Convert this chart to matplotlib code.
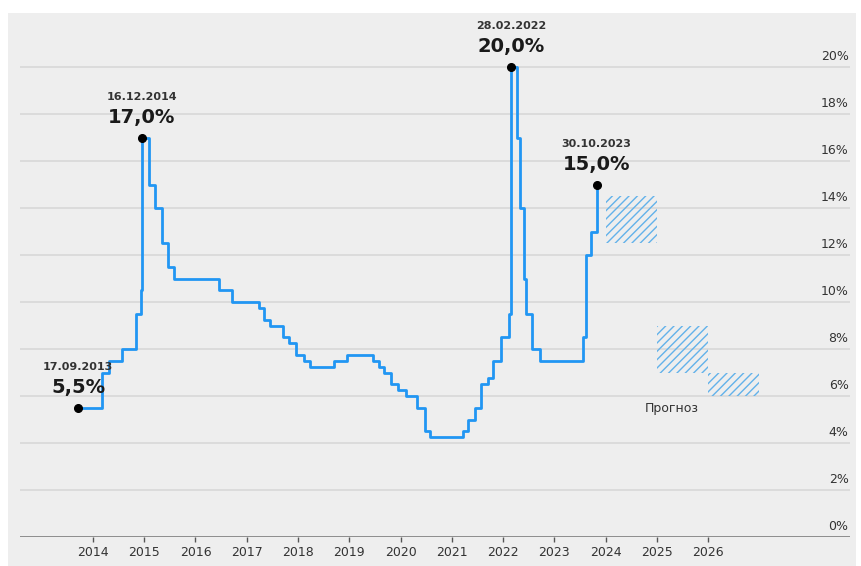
import matplotlib
matplotlib.use("Agg")
import matplotlib.pyplot as plt
from matplotlib.patches import Rectangle
import pandas as pd

# ---- data ----
rate_dates = ["17.09.2013", "03.03.2014", "28.04.2014", "28.07.2014", "05.11.2014",
              "12.12.2014", "16.12.2014", "02.02.2015", "16.03.2015", "05.05.2015",
              "16.06.2015", "03.08.2015", "14.06.2016", "19.09.2016", "27.03.2017",
              "02.05.2017", "19.06.2017", "18.09.2017", "30.10.2017", "18.12.2017",
              "12.02.2018", "26.03.2018", "17.09.2018", "17.12.2018", "17.06.2019",
              "29.07.2019", "09.09.2019", "28.10.2019", "16.12.2019", "10.02.2020",
              "27.04.2020", "22.06.2020", "27.07.2020", "22.03.2021", "26.04.2021",
              "15.06.2021", "26.07.2021", "13.09.2021", "25.10.2021", "20.12.2021",
              "14.02.2022", "28.02.2022", "11.04.2022", "04.05.2022", "27.05.2022",
              "14.06.2022", "25.07.2022", "19.09.2022", "24.07.2023", "15.08.2023",
              "18.09.2023", "30.10.2023"]
rate_values = [5.5, 7.0, 7.5, 8.0, 9.5,
               10.5, 17.0, 15.0, 14.0, 12.5,
               11.5, 11.0, 10.5, 10.0, 9.75,
               9.25, 9.0, 8.5, 8.25, 7.75,
               7.5, 7.25, 7.5, 7.75, 7.5,
               7.25, 7.0, 6.5, 6.25, 6.0,
               5.5, 4.5, 4.25, 4.5, 5.0,
               5.5, 6.5, 6.75, 7.5, 8.5,
               9.5, 20.0, 17.0, 14.0, 11.0,
               9.5, 8.0, 7.5, 8.5, 12.0,
               13.0, 15.0]

forecast_years = [2024, 2025, 2026]
forecast_low = [12.5, 7.0, 6.0]
forecast_high = [14.5, 9.0, 7.0]
forecast_label = "Прогноз"

annot_dates = ["17.09.2013", "16.12.2014", "28.02.2022", "30.10.2023"]
annot_values = [5.5, 17.0, 20.0, 15.0]
annot_texts = ["5,5%", "17,0%", "20,0%", "15,0%"]

x_years = list(range(2014, 2027))
y_ticks = [0, 2, 4, 6, 8, 10, 12, 14, 16, 18, 20]
y_labels = [f"{v}%" for v in y_ticks]


def to_year(s):
    d = pd.to_datetime(s, format="%d.%m.%Y")
    days = 366 if d.is_leap_year else 365
    return d.year + (d.dayofyear - 1) / days


rx = [to_year(s) for s in rate_dates]
ax_x = [to_year(s) for s in annot_dates]

plt.rcParams["font.family"] = ["DejaVu Sans"]
plt.rcParams["hatch.color"] = "#62b2ea"
plt.rcParams["hatch.linewidth"] = 1.0

W, H = 862, 566
fig = plt.figure(figsize=(W / 100, H / 100), dpi=100)
fig.patch.set_facecolor("white")
fig.patches.append(Rectangle((8 / W, 0), 848 / W, 553 / H, transform=fig.transFigure,
                             facecolor="#eeeeee", edgecolor="none", zorder=-10))

ax = fig.add_axes([20 / W, 29 / H, 830 / W, 524 / H])
ax.set_facecolor("none")
ax.set_xlim(2012.576, 2028.77)
ax.set_ylim(0, 22.3)
for s in ax.spines.values():
    s.set_visible(False)

for v in y_ticks[1:]:
    ax.axhline(v, color="#d6d6d6", lw=1.1, zorder=0)
ax.axhline(0, color="#707070", lw=1.8, zorder=1)

for v, lab in zip(y_ticks, y_labels):
    ax.annotate(lab, xy=(1.0, v), xycoords=("axes fraction", "data"),
                xytext=(-1, 3), textcoords="offset points", ha="right", va="bottom",
                fontsize=9, color="#333333")

ax.set_yticks([])
ax.set_xticks(x_years)
ax.set_xticklabels([str(y) for y in x_years])
ax.tick_params(axis="x", length=3.6, width=1, color="#555555", labelsize=9,
               labelcolor="#333333", pad=3)

# forecast boxes
ax.bar(forecast_years, [h - l for h, l in zip(forecast_high, forecast_low)],
       bottom=forecast_low, width=1.0, align="edge", fill=False, hatch="////",
       edgecolor="#62b2ea", linewidth=0, zorder=2)
ax.text(2025.3, 5.45, forecast_label, ha="center", va="center", fontsize=9, color="#333333")

# rate line
ax.step(rx, rate_values, where="post", color="#2196f3", lw=2.0, zorder=3)

# annotated points
ax.plot(ax_x, annot_values, "o", color="black", ms=5.5, zorder=5)
for xx, vv, d, t in zip(ax_x, annot_values, annot_dates, annot_texts):
    ax.annotate(d, xy=(xx, vv), xytext=(0, 29.5), textcoords="offset points",
                ha="center", va="center", fontsize=8, fontweight="bold", color="#333333")
    ax.annotate(t, xy=(xx, vv), xytext=(0, 14.5), textcoords="offset points",
                ha="center", va="center", fontsize=14, fontweight="bold", color="#1a1a1a")

fig.savefig("out.png", dpi=100)
